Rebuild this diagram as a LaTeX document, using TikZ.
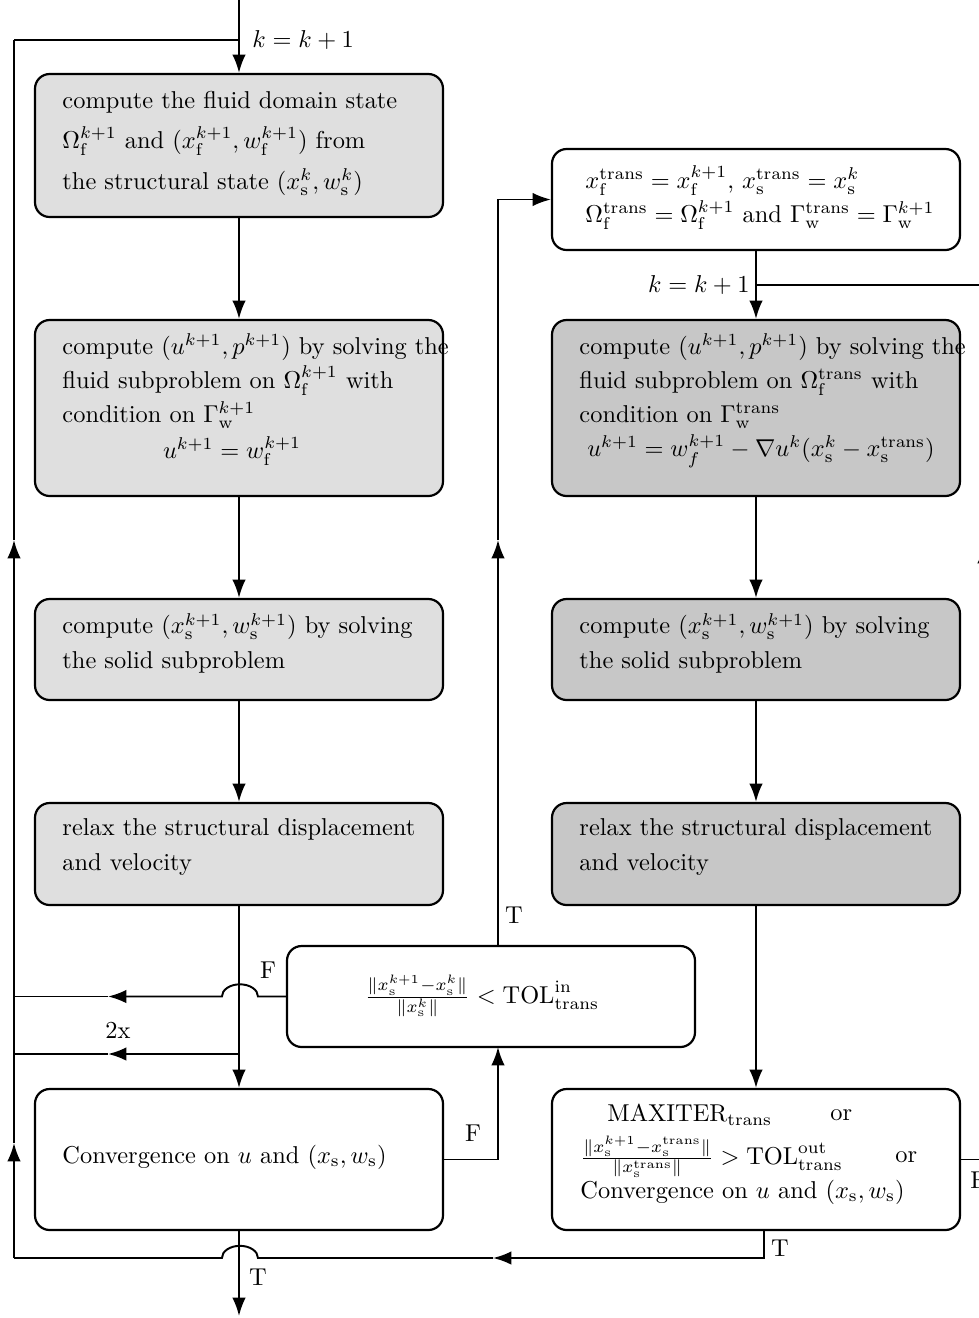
\documentclass[tikz,border=0pt]{standalone}
\usetikzlibrary{arrows.meta,fit}
\newcommand\zf{{\mathrm f}}
\newcommand\zs{{\mathrm s}}
\newcommand\zw{{\mathrm w}}
\newcommand\ztr{{\mathrm{trans}}}
\begin{document}
\begin{tikzpicture}[x=0.41pt,y=-0.41pt,
  box/.style={draw, line width=0.9pt, rounded corners=6pt, inner sep=0pt},
  lbox/.style={box, fill=gray!25},
  dbox/.style={box, fill=gray!44},
  wbox/.style={box, fill=white},
  txt/.style={inner sep=0pt, align=left, anchor=west, font=\fontsize{10}{14}\selectfont},
  lab/.style={inner sep=0pt, font=\fontsize{10}{12}\selectfont},
  conn/.style={line width=0.8pt},
  arr/.style={conn, -{Latex[length=7.5pt,width=5.5pt]}}]
\useasboundingbox (0,0) rectangle (978,1318);
% boxes
\node[lbox, fit={(35,74) (443,217)}] (b1) {};
\node[lbox, fit={(35,320) (443,496)}] (b2) {};
\node[lbox, fit={(35,599) (443,700)}] (b3) {};
\node[lbox, fit={(35,803) (443,905)}] (b4) {};
\node[wbox, fit={(35,1089) (443,1230)}] (b5) {};
\node[wbox, fit={(552,149) (960,250)}] (r0) {};
\node[dbox, fit={(552,320) (960,496)}] (r2) {};
\node[dbox, fit={(552,599) (960,700)}] (r3) {};
\node[dbox, fit={(552,803) (960,905)}] (r4) {};
\node[wbox, fit={(552,1089) (960,1230)}] (r5) {};
\node[wbox, fit={(287,946) (695,1047)}] (mid) {};
% texts
\node[txt, font=\fontsize{10}{16.6}\selectfont] (t1) at (62,143) {compute the fluid domain state\\ $\Omega_{\zf}^{k+1}$ and $(x_{\zf}^{k+1}, w_{\zf}^{k+1})$ from\\ the structural state $(x_{\zs}^k, w_{\zs}^k)$};
\node[txt] (t2) at (62,381) {compute $(u^{k+1},p^{k+1})$ by solving the\\ fluid subproblem on $\Omega_{\zf}^{k+1}$ with\\ condition on $\Gamma_{\zw}^{k+1}$};
\node[lab] (e2) at (232,451) {$u^{k+1} = w_{\zf}^{k+1}$};
\node[txt] (t3) at (62,643) {compute $(x_{\zs}^{k+1}, w_{\zs}^{k+1})$ by solving\\ the solid subproblem};
\node[txt] (t4) at (62,847) {relax the structural displacement\\ and velocity};
\node[txt] (t5) at (62,1157) {Convergence on $u$ and $(x_{\zs}, w_{\zs})$};
\node[txt] (tr0) at (585,198) {$x_{\zf}^{\ztr} = x_{\zf}^{k+1}$, $x_{\zs}^{\ztr} = x_{\zs}^k$\\ $\Omega_{\zf}^{\ztr} = \Omega_{\zf}^{k+1}$ and $\Gamma_{\zw}^{\ztr} = \Gamma_{\zw}^{k+1}$};
\node[txt] (tr2) at (579,381) {compute $(u^{k+1},p^{k+1})$ by solving the\\ fluid subproblem on $\Omega_{\zf}^{\ztr}$ with\\ condition on $\Gamma_{\zw}^{\ztr}$};
\node[lab] (er2) at (761,451) {$u^{k+1} = w_f^{k+1} - \nabla u^k (x_{\zs}^k - x_{\zs}^{\ztr})$};
\node[txt] (tr3) at (579,643) {compute $(x_{\zs}^{k+1}, w_{\zs}^{k+1})$ by solving\\ the solid subproblem};
\node[txt] (tr4) at (579,847) {relax the structural displacement\\ and velocity};
\node[lab] (tm) at (482,996) {$\frac{\|x_{\zs}^{k+1}-x_{\zs}^k\|}{\|x_{\zs}^k\|} < \mathrm{TOL}_{\ztr}^{\mathrm{in}}$};
\node[txt] (q1) at (607,1115) {MAXITER$_{\ztr}$};
\node[txt] (q2) at (830,1115) {or};
\node[txt] (q3) at (580,1157) {$\frac{\|x_{\zs}^{k+1}-x_{\zs}^{\ztr}\|}{\|x_{\zs}^{\ztr}\|} > \mathrm{TOL}_{\ztr}^{\mathrm{out}}$};
\node[txt] (q4) at (895,1157) {or};
\node[txt] (q5) at (580,1192) {Convergence on $u$ and $(x_{\zs}, w_{\zs})$};
% labels
\node[lab, anchor=west] (k1) at (252,40) {$k = k + 1$};
\node[lab, anchor=east] (k2) at (750,285) {$k = k + 1$};
\node[lab] (lT1) at (514,915) {T};
\node[lab] (lF1) at (268,970) {F};
\node[lab] (l2x) at (118,1030) {2x};
\node[lab] (lF2) at (473,1133) {F};
\node[lab] (lT2) at (780,1248) {T};
\node[lab] (lT3) at (258,1277) {T};
\node[lab, anchor=west] (lF3) at (970,1180) {F};
% coordinates
\coordinate (top) at (239,0);
\coordinate (jl) at (239,40);
\coordinate (lt) at (14,40);
\coordinate (lb) at (14,1258);
\coordinate (out) at (239,1316);
\coordinate (rb) at (764,1258);
\coordinate (jr) at (756,285);
% connectors
\draw[arr] (top) -- (b1.north);
\draw[conn] (lt) -- (jl);
\draw[arr] (b1.south) -- (b2.north);
\draw[arr] (b2.south) -- (b3.north);
\draw[arr] (b3.south) -- (b4.north);
\draw[arr] (b4.south) -- (b5.north);
\draw[arr] (b5.south) -- (out);
\draw[arr] (r0.south) -- (r2.north);
\draw[arr] (r2.south) -- (r3.north);
\draw[arr] (r3.south) -- (r4.north);
\draw[arr] (r4.south) -- (r5.north);
% left loop
\draw[arr] (lb) -- (14,1143);
\draw[arr] (14,1143) -- (14,540);
\draw[conn] (14,540) -- (lt);
% bottom return
\draw[arr] (764,1230) -- (rb) -- (493,1258);
\draw[conn] (493,1258) -- (258,1258) arc[start angle=0, end angle=180, x radius=7.4pt, y radius=5pt] -- (lb);
% F from mid
\draw[arr] (mid.west) -- (258,996.5) arc[start angle=0, end angle=180, x radius=7.4pt, y radius=5pt] -- (108,996.5);
\draw[conn] (108,996.5) -- (14,996.5);
% 2x
\draw[arr] (239,1054) -- (108,1054);
\draw[conn] (108,1054) -- (14,1054);
% F from convergence
\draw[arr] (b5.east) -| (498,1047);
% T from mid
\draw[arr] (498,946) -- (498,540);
\draw[arr] (498,540) |- (r0.west);
% right loop
\draw[conn] (r5.east) -- (984,1159.5);
\draw[arr] (984,1159.5) -- (984,545);
\draw[conn] (984,545) |- (jr);
\end{tikzpicture}
\end{document}
